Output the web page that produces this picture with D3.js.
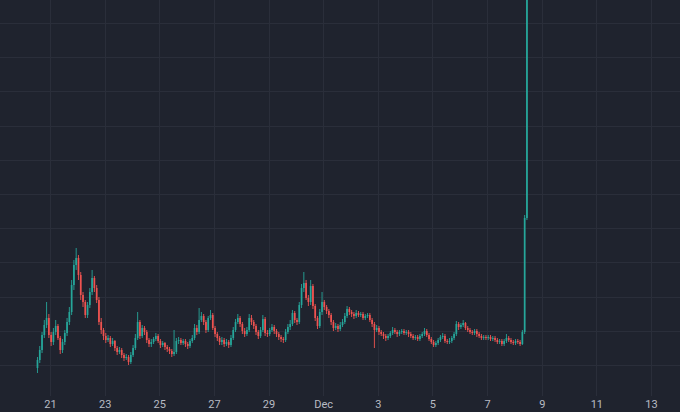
<!DOCTYPE html>
<html>
<head>
<meta charset="utf-8">
<script src="https://cdn.jsdelivr.net/npm/d3@7"></script>
<style>
  html, body { margin: 0; padding: 0; background: #1f232e; }
  svg { display: block; }
</style>
</head>
<body>
<svg id="chart" width="680" height="412"></svg>
<script>
// ---- data (2-hour candles, open = previous close) ----
const firstOpen = 0.32;
const closes = [
  .40,.50,.65,.75,.82,.65,.58,.68,.74,.62,
  .50,.58,.67,.78,.88,1.15,1.35,1.42,1.25,1.05,
  .98,.85,.95,1.08,1.22,1.12,1.00,.78,.70,.64,
  .60,.62,.56,.59,.52,.48,.50,.45,.42,.43,
  .38,.45,.52,.62,.78,.64,.72,.68,.60,.56,
  .58,.61,.64,.59,.55,.57,.53,.51,.49,.46,
  .48,.59,.60,.57,.59,.56,.54,.59,.62,.72,
  .68,.80,.84,.78,.70,.82,.85,.72,.66,.62,
  .58,.60,.56,.58,.55,.62,.70,.78,.82,.76,
  .69,.66,.70,.82,.78,.74,.68,.64,.70,.81,
  .67,.66,.70,.73,.69,.66,.63,.61,.60,.68,
  .73,.76,.87,.80,.78,.95,1.12,1.17,1.02,.98,
  1.14,.94,.82,.74,.88,.98,.93,.89,.85,.78,
  .72,.74,.71,.75,.78,.84,.91,.88,.86,.84,
  .87,.85,.86,.82,.84,.85,.80,.76,.70,.72,
  .68,.66,.64,.62,.64,.67,.70,.68,.66,.68,
  .69,.67,.68,.66,.64,.62,.63,.61,.64,.66,
  .69,.65,.61,.58,.55,.57,.60,.63,.64,.59,
  .58,.59,.62,.66,.76,.73,.75,.77,.72,.70,
  .68,.67,.69,.66,.64,.62,.63,.62,.63,.61,
  .62,.60,.58,.59,.56,.59,.62,.60,.58,.57,
  .59,.58,.56,.68,1.82,6.00
];
const highs = [
  .43,.54,.68,.80,.98,.86,.68,.72,.80,.76,
  .64,.61,.70,.82,.93,1.20,1.40,1.52,1.45,1.28,
  1.08,1.00,.98,1.12,1.30,1.24,1.15,1.03,.82,.72,
  .67,.65,.64,.62,.60,.54,.53,.52,.47,.46,
  .45,.48,.55,.66,.88,.80,.75,.74,.70,.62,
  .61,.63,.67,.66,.61,.59,.58,.55,.53,.51,
  .70,.62,.63,.62,.61,.61,.58,.61,.65,.76,
  .75,.92,.88,.86,.80,.84,.90,.87,.74,.68,
  .64,.63,.62,.61,.60,.65,.73,.81,.86,.84,
  .78,.72,.73,.86,.85,.80,.76,.70,.73,.85,
  .83,.70,.72,.76,.75,.71,.68,.65,.63,.71,
  .76,.80,.90,.89,.82,.98,1.16,1.28,1.20,1.05,
  1.20,1.16,.96,.84,.91,1.08,1.00,.95,.91,.87,
  .80,.77,.76,.78,.81,.87,.94,.93,.90,.88,
  .90,.89,.88,.88,.86,.87,.87,.82,.78,.75,
  .74,.70,.68,.66,.66,.69,.73,.72,.70,.70,
  .71,.71,.70,.70,.68,.66,.65,.65,.66,.68,
  .72,.71,.67,.63,.60,.59,.62,.65,.67,.66,
  .61,.62,.64,.68,.79,.78,.77,.80,.78,.74,
  .72,.70,.71,.71,.68,.66,.65,.65,.65,.65,
  .64,.64,.62,.61,.61,.61,.66,.64,.62,.60,
  .61,.61,.60,.70,1.85,6.00
];
const lows = [
  .27,.37,.47,.62,.72,.62,.54,.55,.65,.60,
  .46,.47,.55,.64,.75,.85,1.10,1.30,1.20,1.00,
  .93,.82,.82,.92,1.05,1.08,.97,.75,.66,.60,
  .57,.58,.53,.54,.49,.45,.46,.42,.39,.40,
  .35,.36,.43,.50,.60,.61,.62,.65,.57,.53,
  .53,.56,.59,.57,.52,.53,.50,.48,.46,.43,
  .44,.46,.56,.55,.55,.53,.51,.52,.57,.60,
  .65,.66,.78,.75,.67,.68,.80,.70,.63,.59,
  .55,.55,.53,.54,.52,.53,.60,.68,.76,.73,
  .66,.63,.64,.68,.75,.71,.65,.61,.62,.68,
  .64,.63,.64,.68,.66,.63,.60,.58,.57,.58,
  .66,.70,.74,.77,.75,.76,.92,1.08,1.00,.94,
  .95,.91,.79,.71,.72,.85,.90,.86,.82,.75,
  .69,.70,.68,.69,.73,.76,.82,.85,.83,.81,
  .82,.83,.83,.80,.80,.82,.78,.73,.52,.68,
  .65,.64,.61,.59,.60,.62,.65,.66,.63,.64,
  .66,.65,.65,.63,.62,.60,.60,.59,.59,.62,
  .64,.63,.59,.56,.53,.53,.55,.58,.61,.57,
  .56,.56,.57,.60,.64,.70,.71,.73,.70,.68,
  .66,.65,.65,.63,.62,.60,.60,.60,.60,.59,
  .59,.58,.56,.56,.54,.54,.57,.58,.56,.55,
  .55,.56,.54,.55,.66,1.80
];
const startTime = new Date(2021, 10, 20, 12, 0);   // Nov 20, 12:00
const candleHours = 2;
const tickDates = [
  new Date(2021,10,21), new Date(2021,10,23), new Date(2021,10,25),
  new Date(2021,10,27), new Date(2021,10,29), new Date(2021,11,1),
  new Date(2021,11,3),  new Date(2021,11,5),  new Date(2021,11,7),
  new Date(2021,11,9),  new Date(2021,11,11), new Date(2021,11,13)
];
const tickLabels = ["21","23","25","27","29","Dec","3","5","7","9","11","13"];

// ---- build candles ----
const candles = closes.map((c, i) => ({
  t: new Date(startTime.getTime() + (i * candleHours + candleHours / 2) * 3600e3),
  open: i === 0 ? firstOpen : closes[i - 1],
  close: c,
  high: highs[i],
  low: lows[i]
}));

const W = 680, H = 412;
const svg = d3.select("#chart");
svg.append("rect").attr("width", W).attr("height", H).attr("fill", "#1f232e");

const x = d3.scaleTime()
  .domain([tickDates[0], tickDates[tickDates.length - 1]])
  .range([50, 651]);
const y = d3.scaleLinear().domain([0, 4]).range([400, 0]);

// grid
const gridStep = 0.342;
const gridVals = d3.range(0.35, 4.1, gridStep);
const grid = svg.append("g");
grid.selectAll("line.h").data(gridVals).join("line")
  .attr("x1", 0).attr("x2", W)
  .attr("y1", d => Math.round(y(d)) + 0.5).attr("y2", d => Math.round(y(d)) + 0.5)
  .attr("stroke", "#2a2e3a").attr("stroke-width", 1);
grid.selectAll("line.v").data(tickDates).join("line")
  .attr("y1", 0).attr("y2", 396)
  .attr("x1", d => Math.round(x(d)) + 0.5).attr("x2", d => Math.round(x(d)) + 0.5)
  .attr("stroke", "#2a2e3a").attr("stroke-width", 1);

// candles
const step = x(new Date(startTime.getTime() + candleHours * 3600e3)) - x(startTime);
const bodyW = Math.max(1, step * 0.75);
const up = "#26a69a", down = "#ef5350";
const clip = svg.append("defs").append("clipPath").attr("id", "pane")
  .append("rect").attr("x", 0).attr("y", 0).attr("width", W).attr("height", 396);
const g = svg.append("g").attr("clip-path", "url(#pane)");
const cg = g.selectAll("g.c").data(candles).join("g");
cg.append("line")
  .attr("x1", d => x(d.t)).attr("x2", d => x(d.t))
  .attr("y1", d => y(d.high)).attr("y2", d => y(d.low))
  .attr("stroke", d => d.close >= d.open ? up : down)
  .attr("stroke-width", 0.9);
cg.append("rect")
  .attr("x", d => x(d.t) - bodyW / 2)
  .attr("width", bodyW)
  .attr("y", d => y(Math.max(d.open, d.close)))
  .attr("height", d => Math.max(1, Math.abs(y(d.open) - y(d.close))))
  .attr("fill", d => d.close >= d.open ? up : down);

// x axis labels
const axis = d3.axisBottom(x)
  .tickValues(tickDates)
  .tickSize(0)
  .tickFormat((d, i) => tickLabels[i]);
const ag = svg.append("g").attr("transform", "translate(0,397)").call(axis);
ag.select(".domain").remove();
ag.selectAll("text")
  .attr("fill", "#b8bbc4")
  .attr("font-family", "Roboto, 'DejaVu Sans', sans-serif")
  .attr("font-size", 11)
  .attr("dy", "0.71em")
  .attr("y", 3);
</script>
</body>
</html>
